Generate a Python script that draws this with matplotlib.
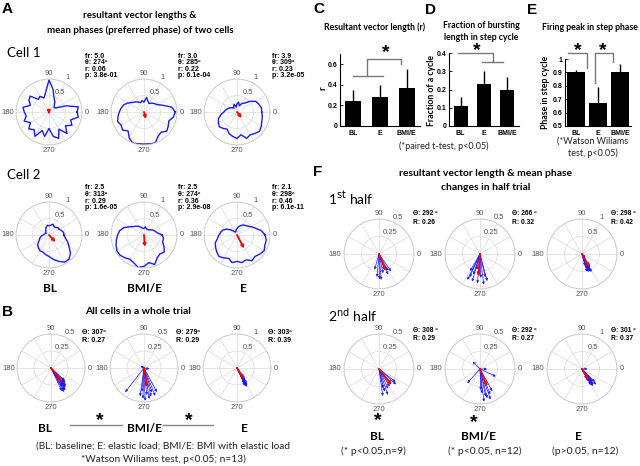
import numpy as np
import matplotlib
matplotlib.use('Agg')
import matplotlib.pyplot as plt

# ---------------- data ----------------
rose_angles = np.arange(0, 360, 10)
# Cell 1 firing-phase histograms (polar curves), BL / BMI-E / E
cell1_bl = [0.85, 0.9, 0.55, 0.25, 0.2, 0.25, 0.35, 0.45, 0.7, 0.97, 0.6, 0.45, 0.55, 0.5, 0.75, 0.7, 0.6, 0.8,
            0.75, 0.7, 0.8, 0.65, 0.8, 0.7, 0.85, 0.6, 0.75, 0.5, 0.75, 0.85, 0.6, 0.85, 0.65, 0.8, 0.7, 0.9]
cell1_bmi = [0.95, 0.85, 0.6, 0.45, 0.4, 0.35, 0.3, 0.35, 0.45, 0.3, 0.35, 0.3, 0.35, 0.4, 0.45, 0.55, 0.65, 0.7,
             0.75, 0.8, 0.85, 0.8, 0.85, 0.75, 0.9, 1.0, 0.98, 0.97, 0.98, 1.0, 0.85, 0.8, 0.9, 0.85, 0.8, 0.9]
cell1_e = [0.75, 0.75, 0.7, 0.65, 0.5, 0.35, 0.3, 0.2, 0.3, 0.25, 0.15, 0.25, 0.2, 0.15, 0.2, 0.25, 0.3, 0.35,
           0.4, 0.5, 0.6, 0.65, 0.7, 0.65, 0.6, 0.7, 0.75, 0.8, 0.7, 0.85, 0.8, 0.85, 0.9, 0.85, 0.8, 0.78]
cell2_bl = [0.45, 0.45, 0.4, 0.35, 0.35, 0.3, 0.3, 0.35, 0.3, 0.28, 0.3, 0.25, 0.2, 0.15, 0.12, 0.1, 0.12, 0.15,
            0.18, 0.25, 0.3, 0.35, 0.45, 0.5, 0.55, 0.55, 0.6, 0.65, 0.75, 0.85, 0.95, 0.95, 0.85, 0.7, 0.6, 0.5]
cell2_bmi = [0.55, 0.4, 0.35, 0.3, 0.25, 0.2, 0.2, 0.2, 0.25, 0.2, 0.2, 0.25, 0.3, 0.35, 0.4, 0.5, 0.65, 0.75,
             0.8, 0.85, 0.9, 0.95, 0.95, 0.9, 0.85, 0.9, 1.0, 0.95, 0.85, 0.95, 0.8, 0.75, 0.8, 0.7, 0.6, 0.6]
cell2_e = [0.85, 0.75, 0.6, 0.5, 0.42, 0.38, 0.35, 0.3, 0.25, 0.2, 0.15, 0.1, 0.1, 0.15, 0.25, 0.35, 0.45, 0.5,
           0.55, 0.6, 0.7, 0.75, 0.8, 0.85, 0.8, 0.75, 0.85, 0.8, 0.85, 0.8, 0.9, 0.85, 0.9, 0.95, 0.9, 0.9]

cell_stats = {
    'cell1': [('5.0', 274, '0.06', '3.8e-01'), ('3.0', 285, '0.22', '6.1e-04'), ('3.9', 309, '0.23', '3.2e-05')],
    'cell2': [('2.5', 313, '0.29', '1.6e-05'), ('2.5', 274, '0.36', '2.9e-08'), ('2.1', 298, '0.46', '6.1e-11')],
}
cell1_mean_theta = [274, 285, 309]
cell1_mean_r = [0.06, 0.22, 0.23]
cell2_mean_theta = [313, 274, 298]
cell2_mean_r = [0.29, 0.36, 0.46]

# B: all cells, whole trial (compass)
b_bl_theta = [300, 305, 310, 315, 298, 308, 302, 312, 295, 318, 306, 303, 310]
b_bl_len = [0.38, 0.36, 0.33, 0.30, 0.40, 0.35, 0.32, 0.28, 0.37, 0.27, 0.31, 0.39, 0.34]
b_bmi_theta = [232, 150, 350, 262, 268, 272, 276, 280, 284, 288, 265, 292, 298]
b_bmi_len = [0.45, 0.06, 0.08, 0.42, 0.45, 0.48, 0.40, 0.46, 0.43, 0.38, 0.35, 0.44, 0.40]
b_e_theta = [295, 298, 300, 303, 296, 301, 299, 297, 305, 302, 300, 294, 298]
b_e_len = [0.50, 0.55, 0.60, 0.45, 0.58, 0.52, 0.48, 0.62, 0.40, 0.55, 0.50, 0.57, 0.60]
b_mean_theta = [307, 279, 303]
b_mean_R = [0.27, 0.29, 0.39]

# F: half trials
f1_bl_theta = [254, 265, 275, 294, 305, 290, 298, 282, 271]
f1_bl_len = [0.23, 0.33, 0.37, 0.32, 0.30, 0.24, 0.27, 0.28, 0.36]
f1_bmi_theta = [244, 246, 254, 265, 277, 285, 272, 258, 252, 240, 283, 267]
f1_bmi_len = [0.41, 0.36, 0.41, 0.42, 0.44, 0.40, 0.34, 0.23, 0.31, 0.28, 0.34, 0.27]
f1_e_theta = [286, 290, 295, 300, 298, 292, 288, 303, 296, 284, 310, 294]
f1_e_len = [0.52, 0.55, 0.50, 0.45, 0.58, 0.48, 0.44, 0.40, 0.56, 0.35, 0.15, 0.50]
f1_mean_theta = [292, 266, 298]
f1_mean_R = [0.26, 0.32, 0.42]
f2_bl_theta = [318, 322, 302, 289, 284, 295, 311, 282, 278]
f2_bl_len = [0.33, 0.30, 0.29, 0.39, 0.33, 0.31, 0.27, 0.28, 0.39]
f2_bmi_theta = [135, 228, 0, 335, 272, 282, 289, 292, 277, 284, 275, 299]
f2_bmi_len = [0.15, 0.27, 0.10, 0.25, 0.30, 0.40, 0.46, 0.39, 0.47, 0.43, 0.35, 0.36]
f2_e_theta = [312, 305, 300, 308, 315, 298, 303, 310, 296, 306, 2, 300]
f2_e_len = [0.60, 0.55, 0.50, 0.45, 0.52, 0.40, 0.58, 0.35, 0.30, 0.48, 0.16, 0.54]
f2_mean_theta = [308, 292, 301]
f2_mean_R = [0.29, 0.27, 0.37]

# bar panels
bar_cats_c = ['BL', 'E', 'BMI/E']
c_vals = [0.24, 0.28, 0.37]
c_err = [0.11, 0.12, 0.18]
d_vals = [0.108, 0.232, 0.198]
d_err = [0.05, 0.068, 0.07]
bar_cats_e = ['BL', 'E', 'BMI/E']
e_vals = [0.90, 0.67, 0.905]
e_err = [0.02, 0.12, 0.06]

# ---------------- figure ----------------
W, H = 640, 466
fig = plt.figure(figsize=(6.4, 4.66), dpi=100)
MAIN = ['Lato', 'DejaVu Sans']
SMALL = ['Liberation Sans', 'DejaVu Sans']
BLUE = '#1a1aff'
LBL = '#555555'


def rect(x0, y0, w, h):
    return [x0 / W, 1 - (y0 + h) / H, w / W, h / H]


def T(x, y, s, **kw):
    kw.setdefault('ha', 'center')
    kw.setdefault('va', 'center')
    kw.setdefault('family', MAIN)
    fig.text(x / W, 1 - y / H, s, **kw)


def polar_ax(cx, cy, R, rmax, rings, ringlabels):
    ax = fig.add_axes(rect(cx - R, cy - R, 2 * R, 2 * R), projection='polar')
    ax.set_ylim(0, rmax)
    ax.set_xticks(np.deg2rad(np.arange(0, 360, 30)))
    ax.set_xticklabels([])
    ax.set_yticks(rings)
    ax.set_yticklabels([])
    ax.grid(True, color='#dadada', lw=0.5)
    ax.spines['polar'].set_color('#c8c8c8')
    ax.spines['polar'].set_linewidth(0.6)
    kw = dict(fontsize=5.5, color=LBL, family=SMALL)
    ax.text(0, rmax * 1.07, '0', ha='left', va='center', **kw)
    ax.text(np.pi / 2, rmax * 1.06, '90', ha='center', va='bottom', **kw)
    ax.text(np.pi, rmax * 1.07, '180', ha='right', va='center', **kw)
    ax.text(1.5 * np.pi, rmax * 1.06, '270', ha='center', va='top', **kw)
    for r, lab in zip(rings, ringlabels):
        ax.text(np.deg2rad(62), r + 0.18 * rmax, lab, ha='center', va='center', **kw)
    return ax


def arrow(ax, th, r, color, lw, ms):
    ax.annotate('', xy=(np.deg2rad(th), r), xytext=(0, 0),
                arrowprops=dict(arrowstyle='-|>', color=color, lw=lw, mutation_scale=ms,
                                shrinkA=0, shrinkB=0))


# ---------- Panel A ----------
T(2, 9, 'A', fontsize=11, fontweight='bold', ha='left', family=['Liberation Sans'])
T(140, 16, 'resultant vector lengths &', fontsize=7, fontweight='bold')
T(140, 30, 'mean phases (preferred phase) of two cells', fontsize=7, fontweight='bold')
T(7, 53, 'Cell 1', fontsize=9.5, ha='left')
T(7, 175, 'Cell 2', fontsize=9.5, ha='left')

A_cx = [49, 144, 237]
A_tx = [85, 178, 272]
for row, (cy, curves, mth, mr, stats, ty) in enumerate([
        (112, [cell1_bl, cell1_bmi, cell1_e], cell1_mean_theta, cell1_mean_r, cell_stats['cell1'], 56),
        (235, [cell2_bl, cell2_bmi, cell2_e], cell2_mean_theta, cell2_mean_r, cell_stats['cell2'], 188)]):
    for i in range(3):
        ax = polar_ax(A_cx[i], cy, 33, 1.0, [0.5, 1.0], ['0.5', '1'])
        th = np.deg2rad(np.append(rose_angles, rose_angles[0]))
        rr = np.append(curves[i], curves[i][0])
        ax.plot(th, rr, color=BLUE, lw=1.0)
        arrow(ax, mth[i], mr[i], 'red', 1.3, 4)
        fr, thv, rv, pv = stats[i]
        for k, s in enumerate(['fr: ' + fr, 'θ: %dº' % thv, 'r: ' + rv, 'p: ' + pv]):
            T(A_tx[i], ty + k * 6.6, s, fontsize=5, fontweight='bold', ha='left', family=SMALL)

T(50, 288, 'BL', fontsize=8.5, fontweight='bold')
T(145, 288, 'BMI/E', fontsize=8.5, fontweight='bold')
T(243, 288, 'E', fontsize=8.5, fontweight='bold')

# ---------- Panel B ----------
T(2, 312, 'B', fontsize=11, fontweight='bold', ha='left', family=['Liberation Sans'])
T(138, 312, 'All cells in a whole trial', fontsize=7.5, fontweight='bold')
B_cx = [51, 144, 237]
B_tx = [82, 176, 268]
b_sets = [(b_bl_theta, b_bl_len), (b_bmi_theta, b_bmi_len), (b_e_theta, b_e_len)]
b_rmax = [0.5, 0.5, 1.0]
b_rings = [([0.25, 0.5], ['0.25', '0.5']), ([0.25, 0.5], ['0.25', '0.5']), ([0.5, 1.0], ['0.5', '1'])]
for i in range(3):
    ax = polar_ax(B_cx[i], 368, 34, b_rmax[i], *b_rings[i])
    for th, ln in zip(*b_sets[i]):
        arrow(ax, th, ln, BLUE, 0.5, 3.5)
    arrow(ax, b_mean_theta[i], b_mean_R[i], 'red', 1.3, 4)
    T(B_tx[i], 333, 'Θ: %dº' % b_mean_theta[i], fontsize=5, fontweight='bold', ha='left', family=SMALL)
    T(B_tx[i], 340, 'R: %.2f' % b_mean_R[i], fontsize=5, fontweight='bold', ha='left', family=SMALL)

T(45, 429, 'BL', fontsize=8.5, fontweight='bold')
T(145, 429, 'BMI/E', fontsize=8.5, fontweight='bold')
T(244, 429, 'E', fontsize=8.5, fontweight='bold')
fig.add_artist(plt.Line2D([70 / W, 122 / W], [1 - 425 / H] * 2, color='#888888', lw=1))
fig.add_artist(plt.Line2D([163 / W, 213 / W], [1 - 425 / H] * 2, color='#888888', lw=1))
T(100, 421, '*', fontsize=14, fontweight='bold', family=SMALL)
T(189, 421, '*', fontsize=14, fontweight='bold', family=SMALL)
T(163, 446, '(BL: baseline; E: elastic load; BMI/E: BMI with elastic load', fontsize=7.3, color='#222222')
T(163, 459, '*Watson Wiliams test, p<0.05; n=13)', fontsize=7.3, color='#222222')


# ---------- Panels C, D, E ----------
def bar_panel(box, vals, errs, cats, ylim, yticks, yticklabels, width):
    ax = fig.add_axes(rect(*box))
    x = np.arange(1, len(vals) + 1)
    ax.bar(x, vals, width=width, color='black')
    ax.errorbar(x, vals, yerr=[np.zeros(len(vals)), errs], fmt='none', ecolor='black', lw=1, capsize=0)
    ax.set_xlim(0.5, 3.5)
    ax.set_ylim(*ylim)
    ax.set_xticks(x)
    ax.set_xticklabels(cats, fontsize=5, fontweight='bold', family=SMALL)
    ax.set_yticks(yticks)
    ax.set_yticklabels(yticklabels, fontsize=5, fontweight='bold', family=SMALL)
    for s in ['top', 'right']:
        ax.spines[s].set_visible(False)
    for s in ['left', 'bottom']:
        ax.spines[s].set_linewidth(0.8)
    ax.tick_params(axis='both', direction='in', length=2, pad=2, width=0.6)
    ax.tick_params(axis='x', length=0, pad=3)
    ax.patch.set_alpha(0)
    return ax


GRAY = '#777777'
T(313, 9, 'C', fontsize=11, fontweight='bold', ha='left', family=['Liberation Sans'])
T(375, 27, 'Resultant vector length (r)', fontsize=6.3, fontweight='bold')
axc = bar_panel((340, 54, 80, 72), c_vals, c_err, bar_cats_c, (0, 0.7), [0, 0.2, 0.4, 0.6], ['0', '0.2', '0.4', '0.6'], 0.6)
axc.plot([1.0, 2.1], [0.49, 0.49], color=GRAY, lw=1, clip_on=False)
axc.plot([1.5, 1.5, 2.8, 2.8], [0.49, 0.655, 0.655, 0.6], color=GRAY, lw=1, clip_on=False)
axc.text(2.2, 0.715, '*', fontsize=14, fontweight='bold', ha='center', va='center', family=SMALL)
T(323, 88, 'r', fontsize=7, fontweight='bold', rotation=90)

T(430, 10, 'D', fontsize=11, fontweight='bold', family=['Liberation Sans'])
T(481, 26, 'Fraction of bursting', fontsize=6.3, fontweight='bold')
T(481, 38, 'length in step cycle', fontsize=6.3, fontweight='bold')
axd = bar_panel((449, 53, 70, 73), d_vals, d_err, bar_cats_c, (0, 0.4), [0, 0.1, 0.2, 0.3, 0.4], ['0', '0.1', '0.2', '0.3', '0.4'], 0.6)
axd.plot([0.87, 2.37, 2.37], [0.4, 0.4, 0.352], color=GRAY, lw=1, clip_on=False)
axd.plot([1.9, 2.83], [0.352, 0.352], color=GRAY, lw=1, clip_on=False)
axd.text(1.69, 0.415, '*', fontsize=14, fontweight='bold', ha='center', va='center', family=SMALL)
T(432, 90, 'Fraction of a cycle', fontsize=6.3, fontweight='bold', rotation=90)
T(444, 146, '(*paired t-test, p<0.05)', fontsize=6.5, color='#222222')

T(532, 10, 'E', fontsize=11, fontweight='bold', family=['Liberation Sans'])
T(590, 27, 'Firing peak in step phase', fontsize=6.3, fontweight='bold')
axe = bar_panel((565, 59, 66, 67), e_vals, e_err, bar_cats_e, (0.5, 1.0), [0.5, 0.6, 0.7, 0.8, 0.9, 1.0],
                ['0.5', '0.6', '0.7', '0.8', '0.9', '1'], 0.8)
axe.plot([0.65, 1.49, 1.49], [1.042, 1.042, 0.93], color=GRAY, lw=1, clip_on=False)
axe.plot([1.86, 1.86, 2.7, 2.7], [0.82, 1.042, 1.042, 0.98], color=GRAY, lw=1, clip_on=False)
axe.text(1.06, 1.065, '*', fontsize=14, fontweight='bold', ha='center', va='center', family=SMALL)
axe.text(2.2, 1.065, '*', fontsize=14, fontweight='bold', ha='center', va='center', family=SMALL)
T(546, 92, 'Phase in step cycle', fontsize=6.3, fontweight='bold', rotation=90)
T(593, 141, '(*Watson Wiliams', fontsize=6.5, color='#222222')
T(593, 153, 'test, p<0.05)', fontsize=6.5, color='#222222')

# ---------- Panel F ----------
T(313, 172, 'F', fontsize=11, fontweight='bold', ha='left', family=['Liberation Sans'])
T(486, 174, 'resultant vector length & mean phase', fontsize=7.5, fontweight='bold')
T(486, 187, 'changes in half trial', fontsize=7.5, fontweight='bold')
T(328, 198, r'1$^{\rm st}$ half', fontsize=10, ha='left')
T(328, 315, r'2$^{\rm nd}$ half', fontsize=10, ha='left')

F_cx = [379, 480, 582]
F_tx = [413, 512, 611]
f_rows = [
    (254, [(f1_bl_theta, f1_bl_len), (f1_bmi_theta, f1_bmi_len), (f1_e_theta, f1_e_len)], f1_mean_theta, f1_mean_R, 214),
    (369, [(f2_bl_theta, f2_bl_len), (f2_bmi_theta, f2_bmi_len), (f2_e_theta, f2_e_len)], f2_mean_theta, f2_mean_R, 330),
]
for cy, sets, mth, mR, ty in f_rows:
    for i in range(3):
        ax = polar_ax(F_cx[i], cy, 35, b_rmax[i], *b_rings[i])
        for th, ln in zip(*sets[i]):
            arrow(ax, th, ln, BLUE, 0.5, 3.5)
        arrow(ax, mth[i], mR[i], 'red', 1.3, 4)
        T(F_tx[i], ty, 'Θ: %d º' % mth[i], fontsize=4.8, fontweight='bold', ha='left', family=SMALL)
        T(F_tx[i], ty + 8, 'R: %.2f' % mR[i], fontsize=4.8, fontweight='bold', ha='left', family=SMALL)

T(378, 421, '*', fontsize=14, fontweight='bold', family=SMALL)
T(474, 423, '*', fontsize=14, fontweight='bold', family=SMALL)
T(377, 436, 'BL', fontsize=8.5, fontweight='bold')
T(478, 436, 'BMI/E', fontsize=8.5, fontweight='bold')
T(578, 436, 'E', fontsize=8.5, fontweight='bold')
T(373, 451, '(* p<0.05,n=9)', fontsize=7.5, color='#222222')
T(485, 451, '(* p<0.05, n=12)', fontsize=7.5, color='#222222')
T(585, 451, '(p>0.05, n=12)', fontsize=7.5, color='#222222')

fig.savefig('out.png', dpi=100)
